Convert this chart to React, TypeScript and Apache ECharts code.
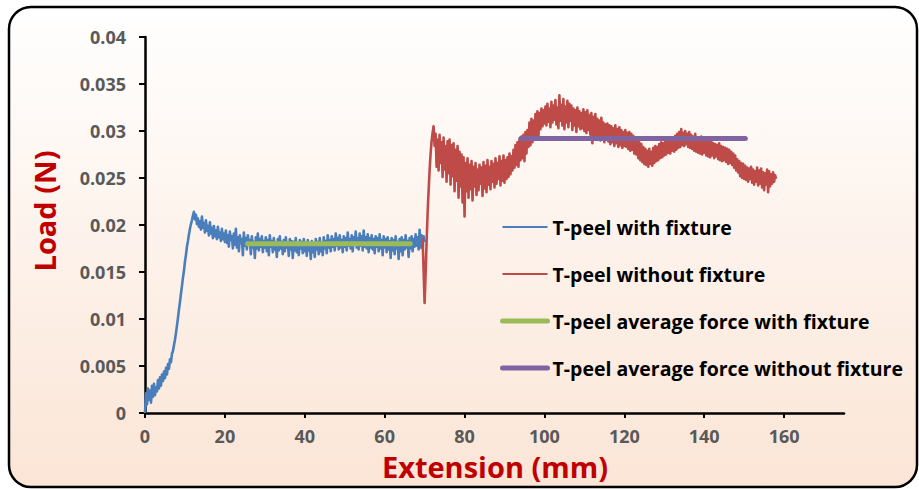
import React, { useEffect, useRef } from "react";
import * as echarts from "echarts";

// Extension sampling (mm)
const blueStart = 0;
const blueStep = 0.25;
const redStart = 69.5;
const redStep = 0.25;

// T-peel with fixture: load (N)
const blueLoad: number[] = [
  0, 0.0021, 0.0009, 0.0026, 0.0014, 0.0024, 0.0011, 0.0029, 0.0017, 0.0031, 0.0019, 0.0027, 0.0023,
  0.0035, 0.0026, 0.0038, 0.0029, 0.0041, 0.0034, 0.0044, 0.0037, 0.0048, 0.0041, 0.0052, 0.0047, 0.0057, 0.0054, 0.0063, 0.0066,
  0.0072, 0.0078, 0.0085, 0.0093, 0.0101, 0.011, 0.0118, 0.0127, 0.0135, 0.0144, 0.0151, 0.0161, 0.0168, 0.0177, 0.0183, 0.019, 0.0196, 0.0201, 0.0205, 0.021, 0.0214, 0.0206, 0.0211, 0.0201,
  0.0207, 0.0198, 0.0204, 0.0195, 0.0209, 0.0197, 0.0202, 0.0192, 0.0205, 0.0194, 0.0199, 0.0189, 0.0203, 0.0191, 0.0197, 0.0186, 0.0199, 0.0188, 0.0194, 0.0185, 0.0198, 0.0187, 0.0192, 0.0183, 0.0196, 0.0185, 0.0191, 0.0182,
  0.0194, 0.0181, 0.0189, 0.0177, 0.0193, 0.0184, 0.0188, 0.0175, 0.0191, 0.0179, 0.0196, 0.0176, 0.0187, 0.0172, 0.0189, 0.0181, 0.0185, 0.0168, 0.0192, 0.0178, 0.0186, 0.0174, 0.0189, 0.0179, 0.0184, 0.0169, 0.0188, 0.0176, 0.0182, 0.0165, 0.0187, 0.0175, 0.0191, 0.0173, 0.0185, 0.0177, 0.0188, 0.0171, 0.0183, 0.0176,
  0.0187, 0.0172, 0.0184, 0.0168, 0.0189, 0.0177, 0.0183, 0.0171, 0.0186, 0.0174, 0.0181, 0.0166, 0.0185, 0.0173, 0.0188, 0.0175, 0.0182, 0.0169, 0.0184, 0.0172, 0.0187, 0.0176, 0.0181, 0.0167, 0.0185, 0.0174, 0.0183, 0.0165, 0.0182, 0.0173, 0.0186, 0.0171, 0.018, 0.0168, 0.0184, 0.0175, 0.0182, 0.017, 0.0185, 0.0172,
  0.0181, 0.0167, 0.0184, 0.0173, 0.018, 0.0164, 0.0183, 0.0171, 0.0179, 0.0166, 0.0185, 0.0174, 0.0182, 0.0169, 0.0186, 0.0172, 0.0181, 0.0168, 0.0187, 0.0175, 0.0183, 0.017, 0.0189, 0.0176, 0.0184, 0.0172, 0.0188, 0.0177, 0.0185, 0.0173, 0.0191, 0.0178, 0.0186, 0.0174, 0.0189, 0.0176, 0.0184, 0.0171, 0.0188, 0.0177,
  0.0186, 0.0173, 0.0192, 0.0178, 0.0185, 0.0175, 0.0189, 0.0172, 0.0187, 0.0179, 0.0193, 0.0176, 0.0186, 0.0174, 0.0191, 0.0178, 0.0188, 0.0173, 0.0194, 0.0177, 0.0187, 0.0175, 0.019, 0.0171, 0.0186, 0.0176, 0.0189, 0.0174, 0.0185, 0.017, 0.0188, 0.0177, 0.0186, 0.0172, 0.019, 0.0175, 0.0184, 0.0168, 0.0188, 0.0176,
  0.0185, 0.0171, 0.0187, 0.0174, 0.0183, 0.0165, 0.0186, 0.0173, 0.0184, 0.0169, 0.0188, 0.0175, 0.0182, 0.0164, 0.0185, 0.0172, 0.0187, 0.0168, 0.0184, 0.0174, 0.0189, 0.0176, 0.0183, 0.0166, 0.0186, 0.0175, 0.0188, 0.0172, 0.0185, 0.0177, 0.019, 0.0178, 0.0187, 0.0174, 0.0195, 0.0176, 0.0189, 0.0175, 0.0188, 0.0182,
];

// T-peel without fixture: load (N)
const redLoad: number[] = [
  0.0186, 0.0152, 0.0117, 0.0148, 0.0182, 0.0212, 0.0236, 0.0258, 0.0276, 0.0289, 0.0298, 0.0305, 0.0284,
  0.0297, 0.0262, 0.0291, 0.0258, 0.0296, 0.0266, 0.0288, 0.0251, 0.0293, 0.0259, 0.0284, 0.0246, 0.0289, 0.0255, 0.0291, 0.0243, 0.0285, 0.0252, 0.0287, 0.0236, 0.028, 0.0247, 0.0284, 0.0229, 0.0278, 0.0241, 0.0275, 0.0224, 0.0272, 0.0209,
  0.0266, 0.0236, 0.0271, 0.0229, 0.0264, 0.0238, 0.0268, 0.0226, 0.0262, 0.0241, 0.0266, 0.0232, 0.0259, 0.0237, 0.0264, 0.0244, 0.0261, 0.0231, 0.0267, 0.0239, 0.0263, 0.0235, 0.0269, 0.0243, 0.0262, 0.0238, 0.0268, 0.0246, 0.0265, 0.024, 0.0271, 0.0244, 0.0266, 0.0249, 0.0273, 0.0242, 0.0268, 0.0247, 0.0274, 0.0245,
  0.0269, 0.0249, 0.0272, 0.0251, 0.0276, 0.0254, 0.0273, 0.0258, 0.028, 0.0261, 0.0285, 0.0264, 0.0288, 0.0262, 0.0291, 0.0269, 0.0294, 0.0271, 0.0296, 0.0268, 0.0299, 0.0276, 0.0301, 0.0283, 0.0309, 0.0285, 0.0313, 0.0288, 0.0311, 0.0292, 0.0318, 0.0296, 0.0321, 0.0294, 0.0319, 0.0302, 0.0324, 0.0305, 0.0322, 0.0308,
  0.0326, 0.0306, 0.0329, 0.031, 0.0324, 0.0304, 0.0331, 0.0309, 0.0327, 0.0312, 0.0333, 0.0307, 0.0325, 0.0303, 0.0338, 0.0311, 0.0328, 0.0306, 0.0334, 0.0302, 0.0326, 0.0309, 0.0332, 0.0304, 0.0329, 0.0311, 0.0327, 0.0301, 0.0324, 0.0306, 0.0322, 0.0299, 0.0325, 0.0305, 0.0321, 0.0302, 0.0319, 0.0303, 0.0323, 0.03,
  0.032, 0.0298, 0.0322, 0.0301, 0.0317, 0.0296, 0.0319, 0.0287, 0.0315, 0.0294, 0.0318, 0.0292, 0.0313, 0.0295, 0.0311, 0.029, 0.0314, 0.0293, 0.0309, 0.0288, 0.0307, 0.0291, 0.0308, 0.0289, 0.0306, 0.0286, 0.0305, 0.0288, 0.0303, 0.0284, 0.0306, 0.0287, 0.0302, 0.0283, 0.0304, 0.0285, 0.0301, 0.0282, 0.0299, 0.0284,
  0.0301, 0.0283, 0.0298, 0.0281, 0.0299, 0.0279, 0.0297, 0.028, 0.0295, 0.0276, 0.0293, 0.0275, 0.0289, 0.0271, 0.0288, 0.0269, 0.0286, 0.0267, 0.0283, 0.0265, 0.0281, 0.0264, 0.0279, 0.0262, 0.0281, 0.0265, 0.0278, 0.0263, 0.0282, 0.0266, 0.0284, 0.0268, 0.0283, 0.0269, 0.0286, 0.0271, 0.0288, 0.0272, 0.0287, 0.0274,
  0.029, 0.0275, 0.0292, 0.0277, 0.0289, 0.0276, 0.0293, 0.0279, 0.0291, 0.0278, 0.0295, 0.028, 0.0297, 0.0282, 0.0299, 0.0283, 0.0302, 0.0285, 0.0298, 0.0284, 0.03, 0.0286, 0.0297, 0.0283, 0.0299, 0.0282, 0.0296, 0.0281, 0.0294, 0.0279, 0.0297, 0.0278, 0.0293, 0.0277, 0.0292, 0.0276, 0.0294, 0.0275, 0.0291, 0.0277,
  0.0289, 0.0274, 0.0291, 0.0273, 0.0288, 0.0272, 0.029, 0.0274, 0.0287, 0.0271, 0.0286, 0.0273, 0.0285, 0.027, 0.0287, 0.0269, 0.0284, 0.0268, 0.0283, 0.0269, 0.0282, 0.0267, 0.0281, 0.0265, 0.028, 0.0266, 0.0278, 0.0264, 0.0276, 0.0261, 0.0274, 0.0258, 0.027, 0.0256, 0.0268, 0.0252, 0.0266, 0.025, 0.0265, 0.0249,
  0.0263, 0.0248, 0.0261, 0.0246, 0.026, 0.0249, 0.0262, 0.0245, 0.0259, 0.0243, 0.0257, 0.0246, 0.0261, 0.0242, 0.0258, 0.0244, 0.026, 0.024, 0.0256, 0.0237, 0.0255, 0.0243, 0.0259, 0.0235, 0.0257, 0.0241, 0.0254, 0.0244, 0.0256, 0.0246, 0.0253, 0.0249,
];

// Average force lines: [start, end] extension and load
const avgWithX: number[] = [25.7, 66.4];
const avgWithLoad = 0.018;
const avgWithoutX: number[] = [94.1, 150.3];
const avgWithoutLoad = 0.0292;

const xTicks: number[] = [0, 20, 40, 60, 80, 100, 120, 140, 160];
const seriesNames: string[] = [
  "T-peel with fixture",
  "T-peel without fixture",
  "T-peel average force with fixture",
  "T-peel average force without fixture",
];
const seriesColors: string[] = ["#4a7ebb", "#be4b48", "#9bbb59", "#8064a2"];
const seriesWidths: number[] = [2.6, 2.6, 5, 5];
const legendWidths: number[] = [2, 2, 5, 5];

const FONT = "'Open Sans', 'Noto Sans', sans-serif";

export default function App() {
  const ref = useRef<HTMLDivElement>(null);
  useEffect(() => {
    document.body.style.margin = "0";
    if (!ref.current) return;
    const chart = echarts.init(ref.current, null, { renderer: "svg" });
    const blue = blueLoad.map((v, i) => [blueStart + i * blueStep, v]);
    const red = redLoad.map((v, i) => [redStart + i * redStep, v]);
    const green = avgWithX.map((x) => [x, avgWithLoad]);
    const purple = avgWithoutX.map((x) => [x, avgWithoutLoad]);
    const datasets = [blue, red, green, purple];
    chart.setOption({
      animation: false,
      graphic: [
        {
          type: "rect",
          z: -10,
          silent: true,
          shape: { x: 9, y: 7, width: 908, height: 480, r: 22 },
          style: {
            fill: new echarts.graphic.LinearGradient(0, 0, 0, 1, [
              { offset: 0, color: "#ffffff" },
              { offset: 1, color: "#fbe5d6" },
            ]),
            stroke: "#000000",
            lineWidth: 2.5,
          },
        },
        {
          type: "text",
          x: 44,
          y: 211,
          rotation: Math.PI / 2,
          style: {
            text: "Load (N)",
            fill: "#c00000",
            font: `bold 29px ${FONT}`,
            align: "center",
            verticalAlign: "middle",
          },
        },
        {
          type: "text",
          x: 495,
          y: 466,
          style: {
            text: "Extension (mm)",
            fill: "#c00000",
            font: `bold 29px ${FONT}`,
            align: "center",
            verticalAlign: "middle",
          },
        },
      ],
      legend: {
        orient: "vertical",
        left: 500,
        top: 217,
        padding: 0,
        itemWidth: 45,
        itemHeight: 14,
        itemGap: 27,
        data: seriesNames.map((name, i) => ({
          name,
          lineStyle: { width: legendWidths[i] },
        })),
        itemStyle: { opacity: 0 },
        textStyle: {
          color: "#000000",
          fontWeight: "bold",
          fontSize: 19.5,
          fontFamily: FONT,
        },
      },
      grid: { left: 145, top: 37, right: 75, bottom: 76 },
      xAxis: {
        type: "value",
        min: 0,
        max: 175,
        interval: 20,
        splitLine: { show: false },
        axisLine: { lineStyle: { color: "#000", width: 2.5 } },
        axisTick: {
          show: true,
          length: 5,
          customValues: xTicks,
          lineStyle: { color: "#000", width: 2 },
        },
        axisLabel: {
          customValues: xTicks,
          margin: 14,
          color: "#595959",
          fontWeight: "bold",
          fontSize: 18,
          fontFamily: FONT,
        },
      },
      yAxis: {
        type: "value",
        min: 0,
        max: 0.04,
        interval: 0.005,
        splitLine: { show: false },
        axisLine: { show: true, lineStyle: { color: "#000", width: 2.5 } },
        axisTick: { show: true, length: 6, lineStyle: { color: "#000", width: 2 } },
        axisLabel: {
          margin: 19,
          color: "#595959",
          fontWeight: "bold",
          fontSize: 18,
          fontFamily: FONT,
          formatter: (v: number) => String(Math.round(v * 1000) / 1000),
        },
      },
      series: seriesNames.map((name, i) => ({
        name,
        type: "line",
        data: datasets[i],
        symbol: "none",
        lineStyle: {
          color: seriesColors[i],
          width: seriesWidths[i],
          cap: i >= 2 ? "round" : "butt",
          join: "round",
        },
        itemStyle: { color: seriesColors[i] },
      })),
    });
    return () => chart.dispose();
  }, []);
  return <div ref={ref} style={{ width: 919, height: 489 }} />;
}
